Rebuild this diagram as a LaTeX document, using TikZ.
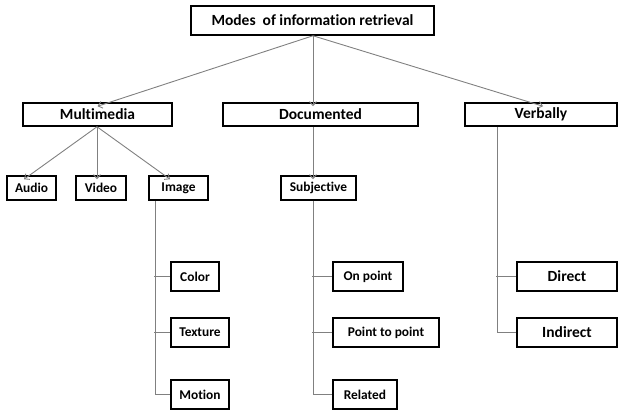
\documentclass[tikz,border=0pt]{standalone}
\usepackage{fontspec}
\setmainfont[Ligatures=NoCommon]{Carlito}
\usetikzlibrary{arrows.meta}
\begin{document}
\begin{tikzpicture}[x=1pt,y=-1pt]
            \tikzstyle{every node}+=[inner sep=0pt]
            \tikzstyle{box}=[draw=black, line width=1.5pt, font=\fontsize{15.5}{18}\selectfont\bfseries, minimum height=23pt]
            \tikzstyle{sbox}=[box, font=\fontsize{13.4}{16}\selectfont\bfseries, minimum height=24pt]
            \tikzstyle{leaf}=[sbox, minimum height=29pt]
            \tikzstyle{link}=[draw=gray, line width=0.9pt]
            \tikzstyle{arr}=[link, -{Straight Barb[length=4pt,width=7pt]}]
                \useasboundingbox (0,0) rectangle (619,410);
                \node[box, minimum width=243pt, minimum height=29pt] (modes) at (312.5,20.5) {Modes~ of information retrieval};
                \node[box, minimum width=149pt] (multi) at (97.5,114.5) {Multimedia};
                \node[box, minimum width=195pt] (doc) at (320.5,114.5) {Documented};
                \node[box, minimum width=152pt] (verb) at (541,114.5) {Verbally};
                \node[sbox, minimum width=49pt] (audio) at (31.5,188) {Audio};
                \node[sbox, minimum width=50pt] (video) at (101,188) {Video};
                \node[sbox, minimum width=59pt] (image) at (178.5,188) {Image};
                \node[sbox, minimum width=75pt] (subj) at (318.5,188) {Subjective};
                \node[leaf, minimum width=48pt] (color) at (195,276.5) {Color};
                \node[leaf, minimum width=58pt] (texture) at (200,332.5) {Texture};
                \node[leaf, minimum width=58pt] (motion) at (200,394.5) {Motion};
                \node[leaf, minimum width=70pt] (onpoint) at (368,276.5) {On point};
                \node[leaf, minimum width=106pt] (ptp) at (386,332.5) {Point to point};
                \node[leaf, minimum width=64pt] (related) at (365,394.5) {Related};
                \node[leaf, minimum width=100pt, font=\fontsize{15.5}{18}\selectfont\bfseries] (direct) at (567,276.5) {Direct};
                \node[leaf, minimum width=100pt, font=\fontsize{15.5}{18}\selectfont\bfseries] (indirect) at (567,332.5) {Indirect};
                % arrows from the top box
                \draw [arr] ([xshift=0.5pt]modes.south) -- ([yshift=-4pt]multi.north);
                \draw [arr] ([xshift=0.5pt]modes.south) -- ([xshift=-7.5pt,yshift=-4pt]doc.north);
                \draw [arr] ([xshift=0.5pt]modes.south) -- ([xshift=2pt,yshift=-4pt]verb.north);
                \draw [arr] ([xshift=-0.5pt]multi.south) -- ([xshift=-7.5pt,yshift=-4pt]audio.north);
                \draw [arr] ([xshift=-0.5pt]multi.south) -- ([xshift=-4pt,yshift=-4pt]video.north);
                \draw [arr] ([xshift=-0.5pt]multi.south) -- ([xshift=-8.5pt,yshift=-4pt]image.north);
                \draw [arr] ([xshift=-7.5pt]doc.south) -- ([xshift=-5.5pt,yshift=-4pt]subj.north);
                % branches
                \draw [link] ([xshift=-23.5pt]image.south) |- (motion.west);
                \draw [link] ([xshift=-16pt]color.west) -- (color.west);
                \draw [link] ([xshift=-16pt]texture.west) -- (texture.west);
                \draw [link] ([xshift=-5.5pt]subj.south) |- (related.west);
                \draw [link] ([xshift=-20pt]onpoint.west) -- (onpoint.west);
                \draw [link] ([xshift=-20pt]ptp.west) -- (ptp.west);
                \draw [link] ([xshift=-44pt]verb.south) |- (indirect.west);
                \draw [link] ([xshift=-20pt]direct.west) -- (direct.west);
            \end{tikzpicture}
\end{document}
